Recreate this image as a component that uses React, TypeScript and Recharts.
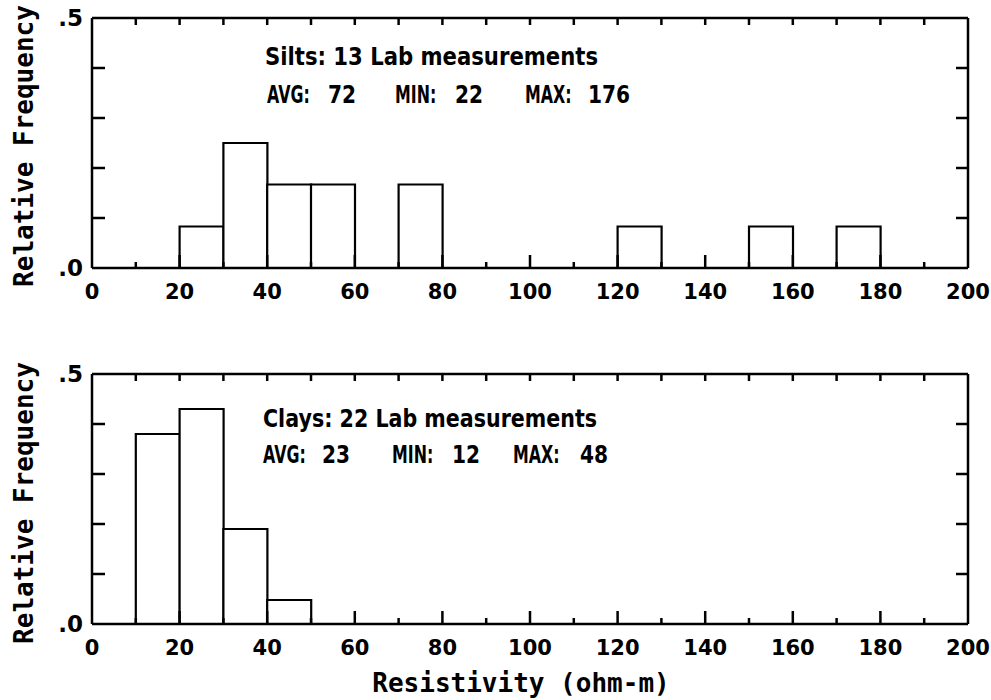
import React from "react";
import { BarChart, Bar, XAxis, YAxis } from "recharts";

const binMids = [5,15,25,35,45,55,65,75,85,95,105,115,125,135,145,155,165,175,185,195];
const siltFreq = [0,0,0.083,0.25,0.167,0.167,0,0.167,0,0,0,0,0.083,0,0,0.083,0,0.083,0,0];
const clayFreq = [0,0.38,0.43,0.19,0.048,0,0,0,0,0,0,0,0,0,0,0,0,0,0,0];
const xTicks = [0,10,20,30,40,50,60,70,80,90,100,110,120,130,140,150,160,170,180,190,200];
const xLabelTicks = [0,20,40,60,80,100,120,140,160,180,200];
const yTicks = [0,0.1,0.2,0.3,0.4,0.5];
const yTickLabels: Record<string,string> = { "0": ".0", "0.5": ".5" };

const siltText = { title: "Silts: 13 Lab measurements", avg: "72", min: "22", max: "176" };
const clayText = { title: "Clays: 22 Lab measurements", avg: "23", min: "12", max: "48" };

const INK = "#000";
const SW = 2.5;
const TICK_FONT = "'DejaVu Sans', sans-serif";
const MONO = "'DejaVu Sans Mono', monospace";

const BottomTick = (props: any) => {
  const { x, y, payload } = props;
  const v = payload.value;
  const major = xLabelTicks.includes(v);
  const showLine = v !== 0 && v !== 200;
  return (
    <g>
      {showLine && <line x1={x} x2={x} y1={y} y2={y - (major ? 13 : 6)} stroke={INK} strokeWidth={SW} />}
      {major && (
        <text x={x} y={y + 31} textAnchor="middle" fontFamily={TICK_FONT} fontWeight="bold" fontSize={21} fill={INK}>
          {v}
        </text>
      )}
    </g>
  );
};

const TopTick = (props: any) => {
  const { x, y, payload } = props;
  const v = payload.value;
  if (v === 0 || v === 200) return <g />;
  return <line x1={x} x2={x} y1={y} y2={y + 7} stroke={INK} strokeWidth={SW} />;
};

const LeftTick = (props: any) => {
  const { x, y, payload } = props;
  const v = payload.value;
  const label = yTickLabels[String(v)];
  const edge = v === 0 || v === 0.5;
  return (
    <g>
      {!edge && <line x1={x} x2={x + 13} y1={y} y2={y} stroke={INK} strokeWidth={SW} />}
      {label && (
        <text x={x - 9} y={y + 8} textAnchor="end" fontFamily={TICK_FONT} fontWeight="bold" fontSize={23} fill={INK}>
          {label}
        </text>
      )}
    </g>
  );
};

const RightTick = (props: any) => {
  const { x, y, payload } = props;
  const v = payload.value;
  if (v === 0 || v === 0.5) return <g />;
  return <line x1={x} x2={x - 12} y1={y} y2={y} stroke={INK} strokeWidth={SW} />;
};

function Panel({ values }: { values: number[] }) {
  const data = binMids.map((m, i) => ({ mid: m, freq: values[i] }));
  return (
    <BarChart
      width={991}
      height={340}
      data={data}
      margin={{ top: 17, right: 22, left: 91, bottom: 71 }}
      barCategoryGap={0}
      barGap={0}
    >
      <XAxis
        xAxisId="num"
        dataKey="mid"
        type="number"
        scale="linear"
        domain={[0, 200]}
        allowDataOverflow
        ticks={xTicks}
        interval={0}
        height={1}
        tickSize={0}
        tickMargin={0}
        tickLine={false}
        axisLine={{ stroke: INK, strokeWidth: SW }}
        tick={<BottomTick />}
      />
      <XAxis
        xAxisId="top"
        dataKey="mid"
        orientation="top"
        type="number"
        scale="linear"
        domain={[0, 200]}
        allowDataOverflow
        ticks={xTicks}
        interval={0}
        height={1}
        tickSize={0}
        tickMargin={0}
        tickLine={false}
        axisLine={{ stroke: INK, strokeWidth: SW }}
        tick={<TopTick />}
      />
      <YAxis
        yAxisId="left"
        type="number"
        domain={[0, 0.5]}
        allowDataOverflow
        ticks={yTicks}
        interval={0}
        width={1}
        tickSize={0}
        tickMargin={0}
        tickLine={false}
        axisLine={{ stroke: INK, strokeWidth: SW }}
        tick={<LeftTick />}
      />
      <YAxis
        yAxisId="right"
        orientation="right"
        type="number"
        domain={[0, 0.5]}
        allowDataOverflow
        ticks={yTicks}
        interval={0}
        width={1}
        tickSize={0}
        tickMargin={0}
        tickLine={false}
        axisLine={{ stroke: INK, strokeWidth: SW }}
        tick={<RightTick />}
      />
      <Bar
        xAxisId="num"
        yAxisId="left"
        dataKey="freq"
        fill="#fff"
        stroke={INK}
        strokeWidth={2.2}
        isAnimationActive={false}
      />
    </BarChart>
  );
}

function Stats({ t, y1, y2, x0, w, pos }: { t: any; y1: number; y2: number; x0: number; w: number; pos: number[] }) {
  const common = { fontFamily: TICK_FONT, fontWeight: "bold" as const, fontSize: 24, fill: INK };
  const parts = ["AVG:", t.avg, "MIN:", t.min, "MAX:", t.max];
  return (
    <g>
      <text x={x0} y={y1} textLength={w} lengthAdjust="spacingAndGlyphs" {...common}>{t.title}</text>
      {parts.map((p, i) => (
        <text key={i} transform={`translate(${pos[i]},${y2}) scale(${i % 2 === 0 ? 0.66 : 0.84},1)`} {...common}>
          {p}
        </text>
      ))}
    </g>
  );
}

export default function App() {
  return (
    <div style={{ position: "absolute", left: 0, top: 0, width: 991, height: 700, background: "#fff" }}>
      <div style={{ position: "absolute", left: 0, top: 0 }}>
        <Panel values={siltFreq} />
      </div>
      <div style={{ position: "absolute", left: 0, top: 356 }}>
        <Panel values={clayFreq} />
      </div>
      <svg width={991} height={700} style={{ position: "absolute", left: 0, top: 0, pointerEvents: "none" }}>
        <text transform="translate(33,146) rotate(-90)" textAnchor="middle" fontFamily={MONO} fontWeight="bold" fontSize={26} fill={INK}>
          Relative Frequency
        </text>
        <text transform="translate(33,503) rotate(-90)" textAnchor="middle" fontFamily={MONO} fontWeight="bold" fontSize={26} fill={INK}>
          Relative Frequency
        </text>
        <text x={521} y={692} textAnchor="middle" fontFamily={MONO} fontWeight="bold" fontSize={26} fill={INK}>
          Resistivity (ohm-m)
        </text>
        <Stats t={siltText} x0={265} y1={65} y2={103} w={333} pos={[267, 328, 395, 455, 525, 588]} />
        <Stats t={clayText} x0={263} y1={427} y2={463} w={334} pos={[263, 322, 392, 452, 513, 580]} />
      </svg>
    </div>
  );
}
